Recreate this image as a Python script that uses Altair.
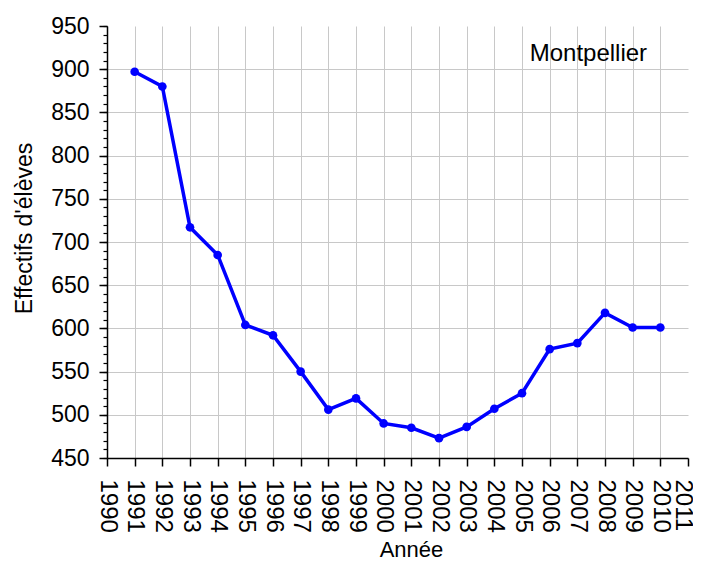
import altair as alt
import pandas as pd

# ---- data ----
years = list(range(1991, 2011))
effectifs = [897, 880, 717, 685, 604, 592, 550, 506, 519, 490,
             485, 473, 486, 507, 525, 576, 583, 618, 601, 601]
x_ticks = list(range(1990, 2012))
y_major = list(range(450, 951, 50))
y_minor = list(range(450, 951, 10))
note_text = ["Montpellier"]
note_year = [2007.4]
note_value = [909]

df = pd.DataFrame({"Année": years, "Effectifs": effectifs})
note = pd.DataFrame({"x": note_year, "y": note_value, "t": note_text})
minor = pd.DataFrame({"v": y_minor})

FONT = "Liberation Sans"
xscale = alt.Scale(domain=[1990, 2011], nice=False, zero=False)
yscale = alt.Scale(domain=[450, 950], nice=False, zero=False)

xaxis = alt.Axis(
    values=x_ticks, format="d", labelAngle=90, labelAlign="left",
    labelBaseline="middle", labelFontSize=24, labelFont=FONT,
    labelColor="black", labelPadding=13, labelFlush=False, labelOverlap=False,
    labelOffset=alt.condition("datum.value >= 2011", alt.value(-6), alt.value(0)),
    tickSize=8, tickColor="black", tickWidth=1.5,
    domainColor="black", domainWidth=1.5,
    gridColor="#c8c8c8", gridWidth=1,
    gridOpacity=alt.condition("datum.value >= 2011", alt.value(0), alt.value(1)),
    title="Année", titleFont=FONT, titleFontSize=22, titleFontWeight="normal",
    titleColor="black", titleBaseline="alphabetic", titleY=98, titleX=304,
)
yaxis = alt.Axis(
    values=y_major, labelFontSize=23, labelFont=FONT, labelColor="black",
    labelPadding=10, labelFlush=False, labelOverlap=False,
    tickSize=8, tickColor="black", tickWidth=1.5,
    domainColor="black", domainWidth=1.5,
    gridColor="#c8c8c8", gridWidth=1,
    gridOpacity=alt.condition("datum.value >= 950", alt.value(0), alt.value(1)),
    title="Effectifs d'élèves", titleFont=FONT, titleFontSize=23,
    titleFontWeight="normal", titleColor="black", titlePadding=14, titleY=202,
)
yminor = alt.Axis(
    values=y_minor, labels=False, tickSize=4, tickColor="black", tickWidth=1.2,
    domain=False, grid=False, title=None, orient="left",
)

X = alt.X("Année:Q", scale=xscale, axis=xaxis)

base = alt.Chart(df)
line = base.mark_line(color="#0000ff", strokeWidth=3.5).encode(
    x=X,
    y=alt.Y("Effectifs:Q", scale=yscale, axis=yaxis),
)
pts = base.mark_circle(color="#0000ff", size=75, opacity=1).encode(
    x=X,
    y=alt.Y("Effectifs:Q", scale=yscale, axis=None),
)
minor_layer = alt.Chart(minor).mark_point(opacity=0).encode(
    y=alt.Y("v:Q", scale=yscale, axis=yminor),
)
text = alt.Chart(note).mark_text(
    font=FONT, fontSize=24, color="black", align="center", baseline="alphabetic"
).encode(
    x=alt.X("x:Q", scale=xscale, axis=xaxis),
    y=alt.Y("y:Q", scale=yscale, axis=None),
    text="t:N",
)

chart = alt.layer(line, pts, text, minor_layer).resolve_axis(
    y="independent"
).properties(
    width=581, height=432, autosize="none",
    padding={"left": 99, "top": 18, "right": 5, "bottom": 101},
).configure_view(stroke=None)

chart.save("out.html", embed_options={"renderer": "svg", "actions": False})
